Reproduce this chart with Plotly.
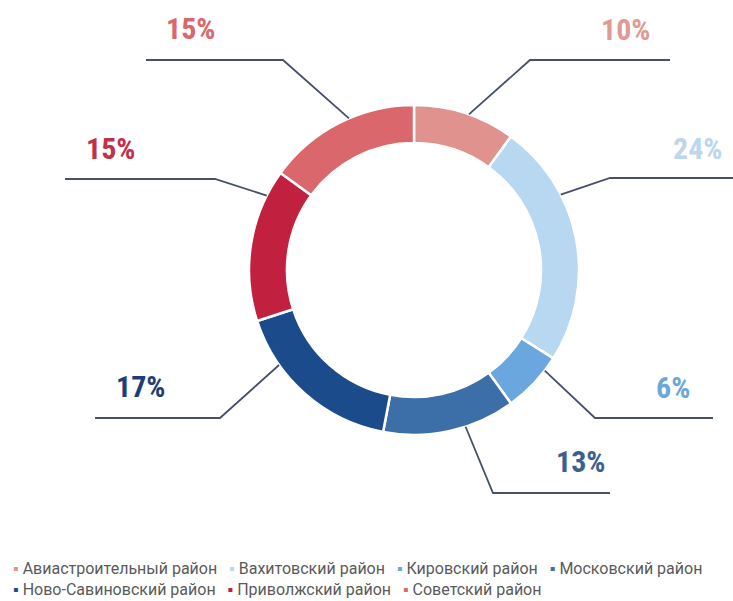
import math
import plotly.graph_objects as go

# District shares (percent)
districts = [
    "Авиастроительный район",
    "Вахитовский район",
    "Кировский район",
    "Московский район",
    "Ново-Савиновский район",
    "Приволжский район",
    "Советский район",
]
shares = [10, 24, 6, 13, 17, 15, 15]

colors = ["#e0928e", "#b8d7f0", "#6aa7de", "#3c6ea7", "#1c4b8c", "#c2203f", "#d9676b"]
label_colors = ["#e09a94", "#bcd6ec", "#6fa6d8", "#3e5f8e", "#1f3f74", "#c2304b", "#d9676b"]

W, H = 733, 601
CX, CY, R_OUT = 414, 270, 165
HOLE = 0.77

# leader layout: point along slice (fraction), elbow (px), end x (px), label centre (px)
anchor_frac = [0.54, 0.31, 0.24, 0.38, 0.72, 0.83, 0.57]
elbows = [(530, 60), (610, 178), (595, 418), (493, 493), (220, 418), (215, 179), (283, 60)]
end_x = [670, 733, 713, 610, 95, 65, 146]
label_pos = [(625, 30), (697, 148), (673, 387), (580, 461), (140, 386), (111, 148), (190, 29)]

legend_rows = [[0, 1, 2, 3], [4, 5, 6]]
legend_y = [568, 589]

LABEL_FONT = "Roboto Condensed, Liberation Sans Narrow, DejaVu Sans Condensed, Roboto, sans-serif"
LEGEND_FONT = "Roboto, sans-serif"


def px(x):
    return x / W


def py(y):
    return 1 - y / H


fig = go.Figure(
    go.Pie(
        labels=districts,
        values=shares,
        hole=HOLE,
        sort=False,
        direction="clockwise",
        rotation=0,
        textinfo="none",
        hoverinfo="label+percent",
        marker=dict(colors=colors, line=dict(color="white", width=2.5)),
        domain=dict(
            x=[px(CX - R_OUT), px(CX + R_OUT)],
            y=[py(CY + R_OUT), py(CY - R_OUT)],
        ),
        showlegend=False,
    )
)

total = sum(shares)
shapes = []
annotations = []
start = 0.0
for i, v in enumerate(shares):
    span = 360.0 * v / total
    ang = math.radians(start + anchor_frac[i] * span)
    start += span
    sx = CX + R_OUT * math.sin(ang)
    sy = CY - R_OUT * math.cos(ang)
    ex, ey = elbows[i]
    path = (
        f"M {px(sx)},{py(sy)} L {px(ex)},{py(ey)} L {px(end_x[i])},{py(ey)}"
    )
    shapes.append(
        dict(type="path", xref="paper", yref="paper", path=path,
             line=dict(color="#46506b", width=1.8))
    )
    lx, ly = label_pos[i]
    annotations.append(
        dict(x=px(lx), y=py(ly), xref="paper", yref="paper",
             text=f"<b>{v}%</b>", showarrow=False,
             xanchor="center", yanchor="middle",
             font=dict(family=LABEL_FONT, size=30, color=label_colors[i]))
    )

NB = "\u00a0"
for row, yy in zip(legend_rows, legend_y):
    parts = [
        f"<span style='color:{colors[k]}'>▪</span>{NB}{districts[k]}" for k in row
    ]
    annotations.append(
        dict(x=px(12), y=py(yy), xref="paper", yref="paper",
             text=(NB * 3).join(parts), showarrow=False,
             xanchor="left", yanchor="middle", borderpad=0,
             font=dict(family=LEGEND_FONT, size=16, color="#5a5a5a"))
    )

fig.update_layout(
    width=W, height=H,
    margin=dict(l=0, r=0, t=0, b=0),
    paper_bgcolor="white",
    plot_bgcolor="white",
    shapes=shapes,
    annotations=annotations,
)

fig.write_html("out.html")
